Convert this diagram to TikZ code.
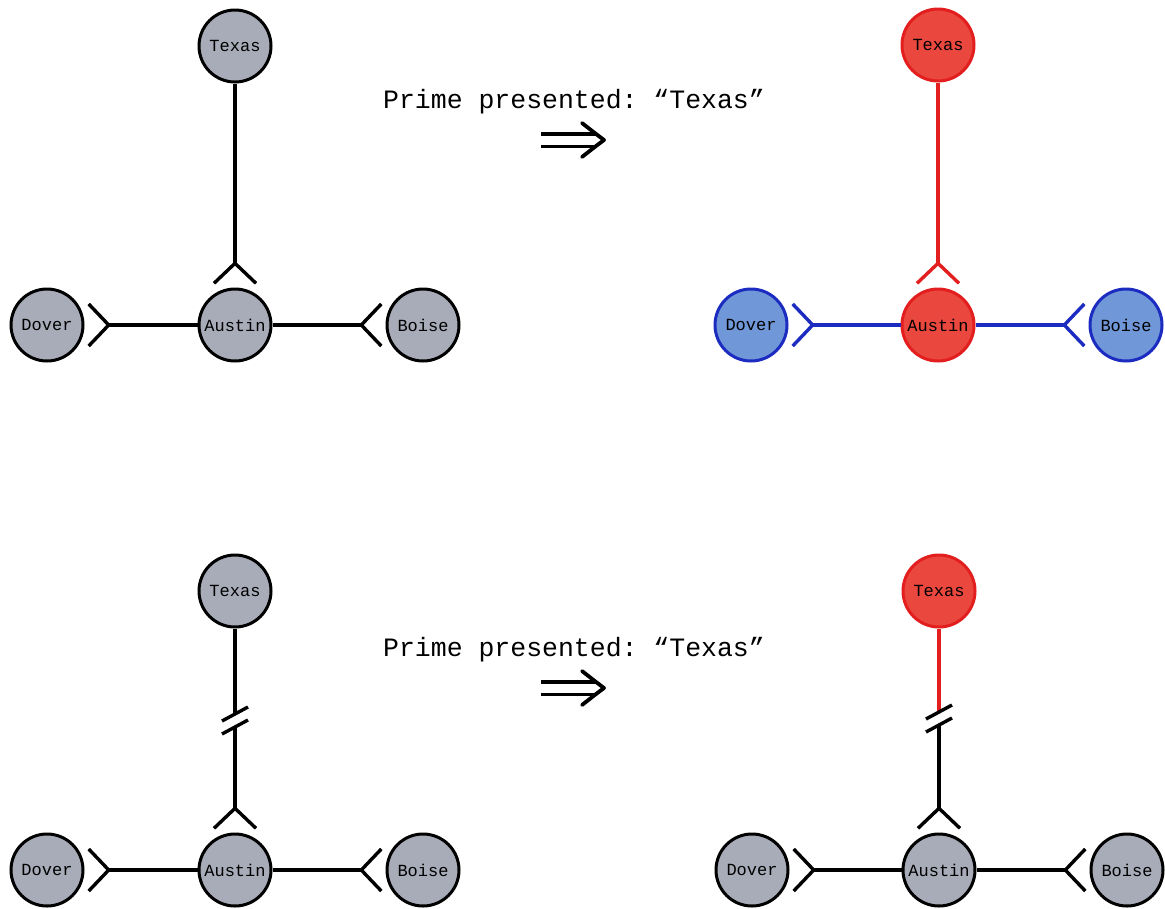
\documentclass[tikz,border=0pt]{standalone}
\usepackage{fontspec}
\setmonofont{Liberation Mono}
\usetikzlibrary{arrows.meta}

\definecolor{citygrey}{RGB}{168,172,184}
\definecolor{activefill}{RGB}{234,72,62}
\definecolor{activeline}{RGB}{226,30,30}
\definecolor{inhibfill}{RGB}{112,152,216}
\definecolor{inhibline}{RGB}{28,44,192}

\tikzset{
  city/.style={circle, draw=black, fill=citygrey, line width=3pt, minimum size=72pt,
    inner sep=0pt, font=\ttfamily\fontsize{17}{20}\selectfont},
  active/.style={city, draw=activeline, fill=activefill},
  inhibited/.style={city, draw=inhibline, fill=inhibfill},
  link/.style={line width=3.4pt},
  barbend/.style={link, -{Straight Barb[reversed,length=20pt,width=42pt]}, shorten >=2.5pt},
  prime/.style={font=\ttfamily\fontsize{26.5}{30}\selectfont, anchor=base, inner sep=0pt},
  impliesbar/.style={double, double distance=9pt, line width=3.6pt},
  impliestip/.style={line width=3.8pt, line cap=round, line join=round}
}

\begin{document}
\begin{tikzpicture}[x=1pt,y=-1pt]
\useasboundingbox (0,0) rectangle (1165,908);

\node[city] (texas1) at (235,46) {Texas};
\node[city] (austin1) at (235,325) {Austin};
\node[city] (dover1) at (47,325) {Dover};
\node[city] (boise1) at (423,325) {Boise};
\draw[barbend] (texas1) -- (austin1);
\draw[barbend] (austin1) -- (dover1);
\draw[barbend] (austin1) -- (boise1);

\node[prime] (prime1) at (574,108) {Prime presented: “Texas”};
\coordinate (imp1a) at (541,140);
\coordinate (imp1b) at (604,140);
\draw[impliesbar] (imp1a) -- ([xshift=-9]imp1b);
\draw[impliestip] ([shift={(-22,-17)}]imp1b) .. controls ([shift={(-8,-6)}]imp1b) .. (imp1b)
  .. controls ([shift={(-8,6)}]imp1b) .. ([shift={(-22,17)}]imp1b);

\node[active] (texas2) at (938,45) {Texas};
\node[active] (austin2) at (938,325) {Austin};
\node[inhibited] (dover2) at (751,325) {Dover};
\node[inhibited] (boise2) at (1126,325) {Boise};
\draw[barbend, activeline] (texas2) -- (austin2);
\draw[barbend, inhibline] (austin2) -- (dover2);
\draw[barbend, inhibline] (austin2) -- (boise2);

\node[city] (texas3) at (235,591) {Texas};
\node[city] (austin3) at (235,870) {Austin};
\node[city] (dover3) at (47,870) {Dover};
\node[city] (boise3) at (423,870) {Boise};
\coordinate (cut3a) at (235,714);
\coordinate (cut3b) at (235,727);
\draw[link] (texas3) -- (cut3a);
\draw[barbend] (cut3b) -- (austin3);
\draw[link] ([shift={(-13,7)}]cut3a) -- ([shift={(13,-7)}]cut3a);
\draw[link] ([shift={(-13,7)}]cut3b) -- ([shift={(13,-7)}]cut3b);
\draw[barbend] (austin3) -- (dover3);
\draw[barbend] (austin3) -- (boise3);

\node[prime] (prime2) at (574,656) {Prime presented: “Texas”};
\coordinate (imp2a) at (541,688);
\coordinate (imp2b) at (604,688);
\draw[impliesbar] (imp2a) -- ([xshift=-9]imp2b);
\draw[impliestip] ([shift={(-22,-17)}]imp2b) .. controls ([shift={(-8,-6)}]imp2b) .. (imp2b)
  .. controls ([shift={(-8,6)}]imp2b) .. ([shift={(-22,17)}]imp2b);

\node[active] (texas4) at (939,591) {Texas};
\node[city] (austin4) at (939,870) {Austin};
\node[city] (dover4) at (752,870) {Dover};
\node[city] (boise4) at (1127,870) {Boise};
\coordinate (cut4a) at (939,712);
\coordinate (cut4b) at (939,725);
\draw[link, activeline] (texas4) -- (cut4a);
\draw[barbend] (cut4b) -- (austin4);
\draw[link] ([shift={(-13,7)}]cut4a) -- ([shift={(13,-7)}]cut4a);
\draw[link] ([shift={(-13,7)}]cut4b) -- ([shift={(13,-7)}]cut4b);
\draw[barbend] (austin4) -- (dover4);
\draw[barbend] (austin4) -- (boise4);
\end{tikzpicture}
\end{document}
